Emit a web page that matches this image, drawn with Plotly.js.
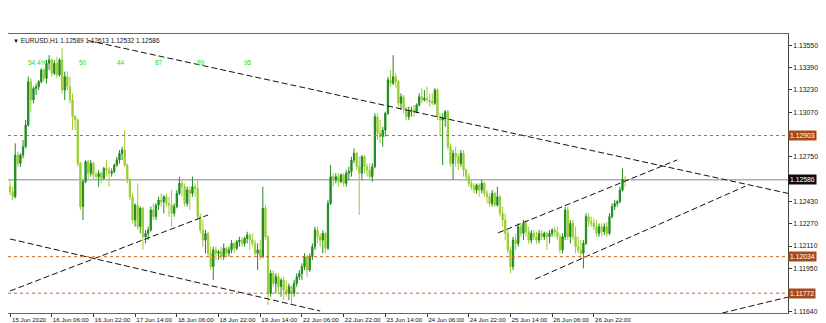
<!DOCTYPE html>
<html><head><meta charset="utf-8">
<script src="https://cdn.plot.ly/plotly-3.0.1.min.js"></script>
<style>html,body{margin:0;padding:0;background:#fff;}#chart{width:826px;height:323px;}</style>
</head><body><div id="chart"></div>
<script>
const symbol = "EURUSD,H1";
const lastBar = ["1.12589", "1.12613", "1.12532", "1.12586"];

const openP = [
1.12536,1.12500,1.12464,1.12763,1.12703,1.12763,1.12823,1.12978,1.13289,1.13158,
1.13241,1.13253,1.13289,1.13373,1.13313,1.13421,1.13445,1.13349,1.13421,1.13337,
1.13445,1.13229,1.13325,1.13253,1.13158,1.13038,1.13014,1.12703,1.12393,1.12572,
1.12715,1.12632,1.12703,1.12620,1.12608,1.12632,1.12596,1.12667,1.12655,1.12632,
1.12644,1.12691,1.12727,1.12775,1.12799,1.12691,1.12584,1.12464,1.12297,1.12404,
1.12249,1.12381,1.12177,1.12201,1.12225,1.12369,1.12321,1.12404,1.12440,1.12428,
1.12464,1.12416,1.12404,1.12345,1.12393,1.12488,1.12560,1.12536,1.12416,1.12512,
1.12488,1.12536,1.12524,1.12321,1.12225,1.12153,1.12201,1.12058,1.11962,1.12082,
1.12058,1.12070,1.12034,1.12094,1.12058,1.12082,1.12129,1.12094,1.12141,1.12153,
1.12129,1.12165,1.12189,1.12153,1.12129,1.12058,1.12082,1.12034,1.12381,1.12177,
1.11771,1.11914,1.11842,1.11890,1.11819,1.11866,1.11795,1.11771,1.11819,1.11771,
1.11842,1.11890,1.11914,1.11962,1.12034,1.11938,1.12034,1.12106,1.12225,1.12177,
1.12153,1.12201,1.12094,1.12416,1.12608,1.12584,1.12608,1.12572,1.12620,1.12560,
1.12632,1.12644,1.12727,1.12775,1.12679,1.12632,1.12751,1.12679,1.12655,1.12608,
1.12679,1.13038,1.12919,1.12895,1.12942,1.13062,1.13301,1.13277,1.13325,1.13289,
1.13134,1.13181,1.13098,1.13038,1.13074,1.13086,1.13074,1.13122,1.13181,1.13158,
1.13170,1.13158,1.13146,1.13134,1.13229,1.13038,1.13014,1.13026,1.13074,1.12823,
1.12703,1.12775,1.12751,1.12703,1.12775,1.12655,1.12608,1.12560,1.12536,1.12512,
1.12548,1.12512,1.12560,1.12488,1.12464,1.12416,1.12488,1.12404,1.12464,1.12345,
1.12297,1.12201,1.12082,1.11962,1.12153,1.12129,1.12249,1.12201,1.12273,1.12213,
1.12153,1.12201,1.12177,1.12153,1.12201,1.12177,1.12201,1.12177,1.12201,1.12225,
1.12213,1.12177,1.12082,1.12177,1.12369,1.12177,1.12273,1.12177,1.12106,1.12082,
1.12058,1.12129,1.12321,1.12285,1.12273,1.12249,1.12201,1.12249,1.12213,1.12249,
1.12201,1.12321,1.12393,1.12416,1.12428,1.12512,1.12589];

const highP = [
1.12584,1.12536,1.12847,1.12787,1.12775,1.12871,1.13014,1.13325,1.13313,1.13253,
1.13277,1.13301,1.13385,1.13385,1.13445,1.13480,1.13456,1.13445,1.13468,1.13456,
1.13528,1.13361,1.13361,1.13325,1.13205,1.13050,1.13026,1.12715,1.12584,1.12727,
1.12727,1.12727,1.12715,1.12644,1.12655,1.12644,1.12679,1.12727,1.12679,1.12667,
1.12703,1.12751,1.12799,1.12823,1.12942,1.12703,1.12596,1.12488,1.12416,1.12560,
1.12393,1.12393,1.12225,1.12249,1.12393,1.12416,1.12416,1.12464,1.12488,1.12476,
1.12488,1.12464,1.12512,1.12416,1.12512,1.12608,1.12584,1.12560,1.12536,1.12536,
1.12608,1.12560,1.12584,1.12345,1.12297,1.12225,1.12213,1.12106,1.12106,1.12106,
1.12082,1.12106,1.12129,1.12106,1.12106,1.12153,1.12141,1.12153,1.12177,1.12177,
1.12177,1.12213,1.12201,1.12201,1.12153,1.12129,1.12153,1.12536,1.12404,1.12189,
1.11938,1.11938,1.11914,1.11914,1.11878,1.11890,1.11866,1.11842,1.11831,1.11866,
1.11914,1.11938,1.11986,1.12058,1.12046,1.12058,1.12129,1.12249,1.12249,1.12201,
1.12225,1.12213,1.12440,1.12691,1.12632,1.12632,1.12632,1.12632,1.12632,1.12655,
1.12679,1.12751,1.12811,1.12787,1.12751,1.12763,1.12763,1.12703,1.12703,1.12703,
1.13062,1.13062,1.13014,1.12966,1.13074,1.13325,1.13373,1.13480,1.13349,1.13301,
1.13205,1.13193,1.13110,1.13110,1.13110,1.13122,1.13134,1.13205,1.13241,1.13229,
1.13253,1.13205,1.13205,1.13241,1.13241,1.13062,1.13062,1.13086,1.13086,1.12847,
1.12799,1.12823,1.12775,1.12799,1.12799,1.12667,1.12632,1.12584,1.12560,1.12560,
1.12560,1.12584,1.12572,1.12512,1.12488,1.12512,1.12500,1.12536,1.12476,1.12393,
1.12345,1.12225,1.12106,1.12177,1.12201,1.12273,1.12273,1.12297,1.12297,1.12249,
1.12225,1.12225,1.12213,1.12225,1.12225,1.12213,1.12213,1.12225,1.12237,1.12249,
1.12249,1.12201,1.12201,1.12393,1.12393,1.12297,1.12297,1.12249,1.12177,1.12153,
1.12153,1.12345,1.12345,1.12321,1.12309,1.12297,1.12273,1.12273,1.12273,1.12285,
1.12345,1.12416,1.12440,1.12440,1.12536,1.12667,1.12613];

const lowP = [
1.12476,1.12440,1.12452,1.12679,1.12679,1.12739,1.12811,1.12966,1.13074,1.13134,
1.13193,1.13229,1.13277,1.13289,1.13277,1.13373,1.13325,1.13337,1.13313,1.13325,
1.13205,1.13158,1.13229,1.13134,1.12942,1.12942,1.12679,1.12369,1.12297,1.12560,
1.12584,1.12608,1.12584,1.12584,1.12536,1.12560,1.12584,1.12608,1.12536,1.12608,
1.12632,1.12679,1.12703,1.12727,1.12679,1.12560,1.12440,1.12273,1.12249,1.12225,
1.12201,1.12082,1.12129,1.12153,1.12213,1.12297,1.12297,1.12369,1.12393,1.12345,
1.12393,1.12321,1.12249,1.12321,1.12381,1.12476,1.12464,1.12393,1.12393,1.12369,
1.12464,1.12464,1.12297,1.12201,1.12106,1.12058,1.12034,1.11938,1.11866,1.12010,
1.12010,1.12010,1.12010,1.12034,1.12034,1.12058,1.12058,1.12082,1.12106,1.12106,
1.12106,1.12129,1.12082,1.12106,1.12034,1.11938,1.12010,1.12022,1.12153,1.11687,
1.11747,1.11819,1.11771,1.11771,1.11747,1.11723,1.11747,1.11723,1.11699,1.11747,
1.11819,1.11866,1.11866,1.11938,1.11890,1.11926,1.12010,1.12082,1.12129,1.12106,
1.12058,1.12058,1.12082,1.12404,1.12536,1.12560,1.12536,1.12560,1.12536,1.12536,
1.12584,1.12608,1.12703,1.12655,1.12333,1.12584,1.12632,1.12608,1.12584,1.12572,
1.12667,1.12871,1.12847,1.12823,1.12895,1.13050,1.13253,1.13265,1.13241,1.13110,
1.13086,1.13062,1.13014,1.13014,1.13038,1.13038,1.13062,1.13110,1.13134,1.13146,
1.13134,1.13110,1.13122,1.13122,1.13014,1.12895,1.12691,1.12966,1.12799,1.12679,
1.12584,1.12679,1.12655,1.12679,1.12608,1.12584,1.12536,1.12512,1.12488,1.12488,
1.12464,1.12488,1.12464,1.12416,1.12393,1.12393,1.12393,1.12393,1.12321,1.12249,
1.12153,1.12058,1.11914,1.11938,1.12082,1.12106,1.12177,1.12153,1.12177,1.12129,
1.12129,1.12153,1.12129,1.12129,1.12153,1.12153,1.12082,1.12129,1.12177,1.12177,
1.12153,1.12058,1.12058,1.12153,1.12153,1.12129,1.12153,1.12058,1.12058,1.12010,
1.11950,1.12118,1.12249,1.12249,1.12225,1.12177,1.12177,1.12177,1.12189,1.12177,
1.12189,1.12309,1.12369,1.12393,1.12416,1.12500,1.12532];

const closeP = [
1.12500,1.12464,1.12763,1.12703,1.12763,1.12823,1.12978,1.13289,1.13158,1.13241,
1.13253,1.13289,1.13373,1.13313,1.13421,1.13445,1.13349,1.13421,1.13337,1.13445,
1.13229,1.13325,1.13253,1.13158,1.13038,1.13014,1.12703,1.12393,1.12572,1.12715,
1.12632,1.12703,1.12620,1.12608,1.12632,1.12596,1.12667,1.12655,1.12632,1.12644,
1.12691,1.12727,1.12775,1.12799,1.12691,1.12584,1.12464,1.12297,1.12404,1.12249,
1.12381,1.12177,1.12201,1.12225,1.12369,1.12321,1.12404,1.12440,1.12428,1.12464,
1.12416,1.12404,1.12345,1.12393,1.12488,1.12560,1.12536,1.12416,1.12512,1.12488,
1.12536,1.12524,1.12321,1.12225,1.12153,1.12201,1.12058,1.11962,1.12082,1.12058,
1.12070,1.12034,1.12094,1.12058,1.12082,1.12129,1.12094,1.12141,1.12153,1.12129,
1.12165,1.12189,1.12153,1.12129,1.12058,1.12082,1.12034,1.12381,1.12177,1.11771,
1.11914,1.11842,1.11890,1.11819,1.11866,1.11795,1.11771,1.11819,1.11771,1.11842,
1.11890,1.11914,1.11962,1.12034,1.11938,1.12034,1.12106,1.12225,1.12177,1.12153,
1.12201,1.12094,1.12416,1.12608,1.12584,1.12608,1.12572,1.12620,1.12560,1.12632,
1.12644,1.12727,1.12775,1.12679,1.12632,1.12751,1.12679,1.12655,1.12608,1.12679,
1.13038,1.12919,1.12895,1.12942,1.13062,1.13301,1.13277,1.13325,1.13289,1.13134,
1.13181,1.13098,1.13038,1.13074,1.13086,1.13074,1.13122,1.13181,1.13158,1.13170,
1.13158,1.13146,1.13134,1.13229,1.13038,1.13014,1.13026,1.13074,1.12823,1.12703,
1.12775,1.12751,1.12703,1.12775,1.12655,1.12608,1.12560,1.12536,1.12512,1.12548,
1.12512,1.12560,1.12488,1.12464,1.12416,1.12488,1.12404,1.12464,1.12345,1.12297,
1.12201,1.12082,1.11962,1.12153,1.12129,1.12249,1.12201,1.12273,1.12213,1.12153,
1.12201,1.12177,1.12153,1.12201,1.12177,1.12201,1.12177,1.12201,1.12225,1.12213,
1.12177,1.12082,1.12177,1.12369,1.12177,1.12273,1.12177,1.12106,1.12082,1.12058,
1.12129,1.12321,1.12285,1.12273,1.12249,1.12201,1.12249,1.12213,1.12249,1.12201,
1.12321,1.12393,1.12416,1.12428,1.12512,1.12589,1.12586];

const timeLabels = ["15 Jun 2020","16 Jun 06:00","16 Jun 22:00","17 Jun 14:00","18 Jun 06:00",
  "18 Jun 22:00","19 Jun 14:00","22 Jun 06:00","22 Jun 22:00","23 Jun 14:00",
  "24 Jun 06:00","24 Jun 22:00","25 Jun 14:00","26 Jun 06:00","26 Jun 22:00"];
const barsPerLabel = 16;
// visible price scale labels (those hidden behind the level boxes are left out)
const priceTicks = [1.1355,1.1339,1.1323,1.1307,1.1275,1.1243,1.1227,1.1211,1.1195,1.1164];
const levels = [1.12903, 1.12034, 1.11772];
const bidPrice = 1.12586;
// trend lines: [barStart, priceStart, barEnd, priceEnd]
const trendLines = [
  [30, 1.13584, 298.5, 1.12488],
  [0, 1.12161, 119, 1.11644],
  [0, 1.11788, 76, 1.12333],
  [187.3, 1.12205, 256, 1.12728],
  [201.5, 1.11873, 282.2, 1.12540],
  [273.3, 1.11630, 298.5, 1.11744]
];
const indicatorLabels = ["54.4%","50","44","87","89","95"];
const indicatorBars = [10.4, 28, 42.6, 57.2, 73.3, 91.4];

const idx = closeP.map((_, i) => i);
const font = "Liberation Sans, Arial, sans-serif";

const traces = [{
  type: "candlestick", x: idx, open: openP, high: highP, low: lowP, close: closeP,
  increasing: {line: {color: "#1e8c1e", width: 1}, fillcolor: "#1e8c1e"},
  decreasing: {line: {color: "#9acd32", width: 1}, fillcolor: "#9acd32"},
  whiskerwidth: 0, hoverinfo: "skip", showlegend: false
}];
trendLines.forEach(t => traces.push({
  type: "scatter", mode: "lines", x: [t[0], t[2]], y: [t[1], t[3]],
  line: {color: "#111", width: 1, dash: "6px,3px"}, hoverinfo: "skip", showlegend: false
}));

const shapes = levels.map(v => ({
  type: "line", xref: "paper", x0: 0, x1: 1, yref: "y", y0: v, y1: v,
  line: {color: "#c8692a", width: 1, dash: "dot"}
}));
shapes.push({type: "line", xref: "paper", x0: 0, x1: 1, yref: "y", y0: bidPrice, y1: bidPrice,
  line: {color: "#a8b0bc", width: 1.5}, layer: "below"});

const fmt = v => v.toFixed(5);
const annotations = [];
annotations.push({xref: "paper", x: 0, xanchor: "left", xshift: 3, yref: "paper", y: 1, yanchor: "middle", yshift: -6,
  text: "<span style='font-size:6px'>▼</span> " + symbol + " " + lastBar.join(" "),
  showarrow: false, font: {family: font, size: 6.5, color: "#111"}});
indicatorLabels.forEach((t, k) => annotations.push({xref: "x", x: indicatorBars[k], yref: "paper", y: 1, yshift: -23,
  text: t, showarrow: false, font: {family: font, size: 6.5, color: "#22dd22"}}));
levels.forEach(v => annotations.push({xref: "paper", x: 1, xanchor: "left", xshift: 0, yref: "y", y: v, yanchor: "middle",
  text: fmt(v), showarrow: false, bgcolor: "#a54a1c", borderpad: 1, font: {family: font, size: 6.8, color: "#fff"}}));
annotations.push({xref: "paper", x: 1, xanchor: "left", xshift: 0, yref: "y", y: bidPrice, yanchor: "middle",
  text: fmt(bidPrice), showarrow: false, bgcolor: "#0c0c14", borderpad: 1, font: {family: font, size: 6.8, color: "#fff"}});

const layout = {
  width: 826, height: 323,
  margin: {l: 8, r: 38, t: 34, b: 10},
  paper_bgcolor: "#fff", plot_bgcolor: "#fff",
  showlegend: false,
  xaxis: {
    range: [-0.77, 298.5], rangeslider: {visible: false}, type: "linear",
    tickvals: timeLabels.map((_, k) => k * barsPerLabel), ticktext: timeLabels,
    ticks: "outside", ticklen: 3, tickcolor: "#333",
    showgrid: false, zeroline: false, showline: true, linecolor: "#666", linewidth: 1, mirror: true,
    tickfont: {family: font, size: 6.2, color: "#111"}, ticklabelshift: 19, ticklabelstandoff: -2
  },
  yaxis: {
    side: "right", range: [1.11630, 1.13631],
    tickvals: priceTicks, ticktext: priceTicks.map(fmt),
    ticks: "outside", ticklen: 3, tickcolor: "#333",
    showgrid: false, zeroline: false, showline: true, linecolor: "#444", linewidth: 1,
    tickfont: {family: font, size: 6.8, color: "#111"}
  },
  shapes: shapes, annotations: annotations
};
Plotly.newPlot("chart", traces, layout, {staticPlot: true, displayModeBar: false});
</script></body></html>
